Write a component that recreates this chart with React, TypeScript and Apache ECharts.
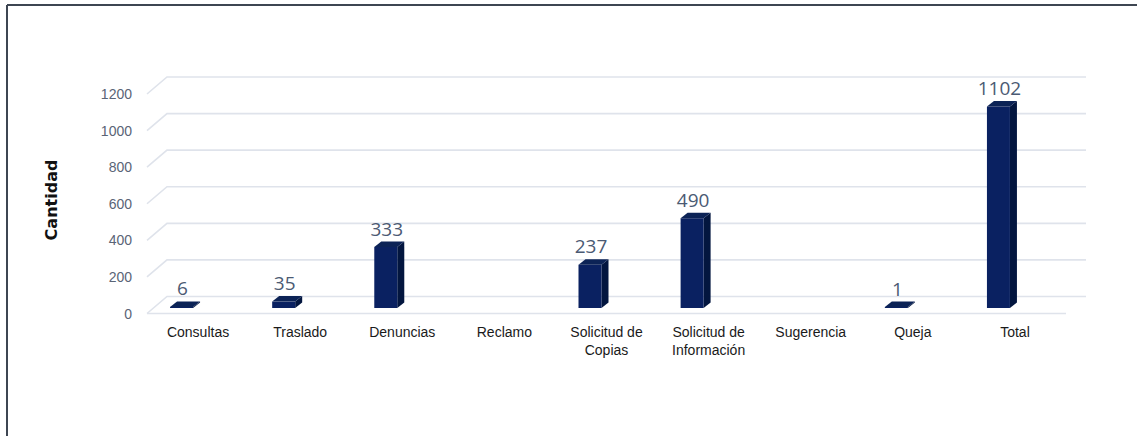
import React, { useEffect, useRef } from "react";
import * as echarts from "echarts";

const categories = [
  "Consultas",
  "Traslado",
  "Denuncias",
  "Reclamo",
  "Solicitud de\nCopias",
  "Solicitud de\nInformación",
  "Sugerencia",
  "Queja",
  "Total",
];
const cantidad: (number | null)[] = [6, 35, 333, null, 237, 490, null, 1, 1102];
const yTicks = [0, 200, 400, 600, 800, 1000, 1200];
const yTitle = "Cantidad";

const DEPTH_X = 20;
const DEPTH_Y = 17;
const BAR_OFF_X = -16.5;
const BAR_W = 23;
const BAR_DX = 7;
const BAR_DY = 5.5;

export default function App() {
  const ref = useRef<HTMLDivElement>(null);
  useEffect(() => {
    if (!ref.current) return;
    const chart = echarts.init(ref.current, null, { renderer: "svg" });
    const option: any = {
      animation: false,
      backgroundColor: "#ffffff",
      grid: { left: 147, right: 71, top: 94, bottom: 122.5 },
      xAxis: {
        type: "category",
        data: categories,
        axisLine: { show: false },
        axisTick: { show: false },
        splitLine: { show: false },
        axisLabel: {
          interval: 0,
          margin: 9,
          color: "#1a1a1a",
          fontSize: 14,
          lineHeight: 18,
          fontFamily: "'Liberation Sans', Arial, sans-serif",
        },
      },
      yAxis: {
        type: "value",
        min: 0,
        max: 1200,
        interval: 200,
        axisLine: { show: false },
        axisTick: { show: false },
        splitLine: { show: false },
        axisLabel: {
          margin: 15,
          color: "#5a6476",
          fontSize: 14,
          fontFamily: "'Liberation Sans', Arial, sans-serif",
          formatter: (v: number) => String(v),
        },
      },
      graphic: [
        {
          type: "line",
          shape: { x1: 7, y1: 5, x2: 1137, y2: 5 },
          style: { stroke: "#3e4652", lineWidth: 2 },
        },
        {
          type: "line",
          shape: { x1: 7, y1: 5, x2: 7, y2: 436 },
          style: { stroke: "#3e4652", lineWidth: 2 },
        },
        {
          type: "text",
          x: 51,
          y: 200,
          rotation: Math.PI / 2,
          style: {
            text: yTitle,
            fill: "#111111",
            font: "bold 16px 'DejaVu Sans', sans-serif",
            align: "center",
            verticalAlign: "middle",
          },
        },
      ],
      series: [
        {
          type: "custom",
          silent: true,
          z: 1,
          data: yTicks.map((v) => [0, v]),
          renderItem: (params: any, api: any) => {
            const v = api.value(1);
            const cs = params.coordSys;
            const y = api.coord([0, v])[1];
            const x0 = cs.x;
            const x1 = cs.x + cs.width;
            const children: any[] = [
              {
                type: "polyline",
                shape: {
                  points: [
                    [x0, y],
                    [x0 + DEPTH_X, y - DEPTH_Y],
                    [x1 + DEPTH_X, y - DEPTH_Y],
                  ],
                },
                style: { stroke: "#dfe3eb", lineWidth: 1.6, fill: null },
              },
            ];
            if (v === 0) {
              children.push({
                type: "line",
                shape: { x1: x0, y1: y, x2: x1, y2: y },
                style: { stroke: "#dfe3eb", lineWidth: 1.6 },
              });
            }
            return { type: "group", children };
          },
        },
        {
          type: "custom",
          z: 2,
          data: cantidad.map((v, i) => [i, v == null ? NaN : v]),
          renderItem: (params: any, api: any) => {
            const v = api.value(1);
            if (v == null || isNaN(v)) return null;
            const i = api.value(0);
            const base = api.coord([i, 0]);
            const top = api.coord([i, v]);
            const cx = base[0] + BAR_OFF_X;
            const xl = cx - BAR_W / 2;
            const xr = cx + BAR_W / 2;
            const yb = base[1] - BAR_DY;
            const yt = Math.min(top[1] - BAR_DY, yb - 1);
            return {
              type: "group",
              children: [
                {
                  type: "polygon",
                  shape: {
                    points: [
                      [xr, yt],
                      [xr + BAR_DX, yt - BAR_DY],
                      [xr + BAR_DX, yb - BAR_DY],
                      [xr, yb],
                    ],
                  },
                  style: { fill: "#03163f" },
                },
                {
                  type: "rect",
                  shape: { x: xl, y: yt, width: BAR_W, height: yb - yt },
                  style: { fill: "#0a2161" },
                },
                {
                  type: "polygon",
                  shape: {
                    points: [
                      [xl, yt],
                      [xl + BAR_DX, yt - BAR_DY],
                      [xr + BAR_DX, yt - BAR_DY],
                      [xr, yt],
                    ],
                  },
                  style: { fill: "#0c2356" },
                },
                {
                  type: "text",
                  x: cx + 1,
                  y: yt - BAR_DY - 13,
                  style: {
                    text: String(v),
                    fill: "#4b5a73",
                    font: "19px 'Open Sans', sans-serif",
                    align: "center",
                    verticalAlign: "middle",
                  },
                },
              ],
            };
          },
        },
      ],
    };
    chart.setOption(option);
    return () => chart.dispose();
  }, []);
  return (
    <div
      ref={ref}
      style={{ position: "absolute", left: 0, top: 0, width: 1137, height: 436, background: "#fff" }}
    />
  );
}
